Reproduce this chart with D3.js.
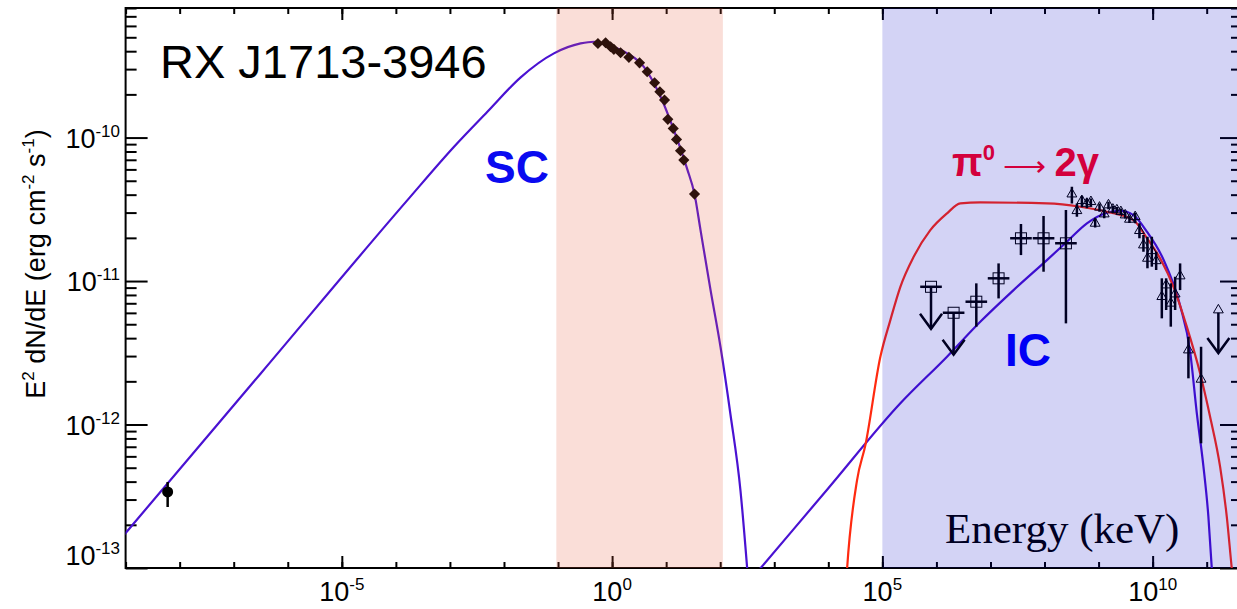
<!DOCTYPE html>
<html>
<head>
<meta charset="utf-8">
<script src="https://cdn.jsdelivr.net/npm/d3@7"></script>
<style>
  body { margin: 0; background: #fff; }
  svg { display: block; font-family: "Liberation Sans", Arial, Helvetica, sans-serif; }
</style>
</head>
<body>
<div id="chart"></div>
<script>
// values are log10: energy in keV, E^2 dN/dE in erg cm^-2 s^-1

// radio point
var radioLogE = [-8.222];
var radioLogF = [-12.470];
var radioLo = [-12.575];
var radioHi = [-12.401];

// X-ray (diamonds)
var xrayLogE = [-0.262, -0.120, -0.028, 0.033, 0.157, 0.311, 0.508, 0.650, 0.786, 0.884, 0.970, 1.031, 1.131, 1.192, 1.266, 1.327, 1.525];
var xrayLogF = [-9.344, -9.339, -9.367, -9.385, -9.409, -9.441, -9.479, -9.541, -9.618, -9.681, -9.739, -9.873, -9.936, -10.013, -10.092, -10.157, -10.394];

// GeV squares
var gevLogE = [6.738, 7.150, 7.564, 7.982, 8.396];
var gevLogF = [-11.144, -10.981, -10.702, -10.702, -10.737];
var gevLo = [-11.318, -11.121, -10.819, -10.935, -11.295];
var gevHi = [-11.016, -10.877, -10.603, -10.547, -10.505];
var gevHalfBin = 0.2;
var gevUlLogE = [5.900, 6.318];
var gevUlLogF = [-11.040, -11.221];

// TeV triangles
var tevLogE = [8.506, 8.599, 8.691, 8.784, 8.858, 8.937, 9.017, 9.104, 9.183, 9.264, 9.338, 9.412, 9.492, 9.571,
               9.677, 9.756, 9.830, 9.904, 9.985, 10.065, 10.170, 10.250, 10.336, 10.416, 10.508, 10.662, 10.896];
var tevLogF = [-10.394, -10.510, -10.440, -10.459, -10.447, -10.598, -10.486, -10.533, -10.470, -10.500, -10.505, -10.517, -10.540, -10.570,
               -10.552, -10.649, -10.749, -10.842, -10.789, -10.859, -11.109, -11.028, -11.155, -11.091, -10.965, -11.481, -11.685];
var tevLo = [-10.459, -10.552, -10.486, -10.493, -10.482, -10.626, -10.517, -10.563, -10.500, -10.524, -10.526, -10.540, -10.564, -10.596,
             -10.598, -10.702, -10.796, -10.911, -10.900, -10.923, -11.260, -11.202, -11.318, -11.202, -11.063, -11.678, -12.131];
var tevHi = [-10.343, -10.459, -10.408, -10.424, -10.424, -10.563, -10.459, -10.505, -10.447, -10.477, -10.484, -10.495, -10.516, -10.544,
             -10.524, -10.598, -10.679, -10.691, -10.691, -10.796, -10.981, -10.981, -11.016, -10.970, -10.877, -11.388, -11.458];
var tevUlLogE = [11.216];
var tevUlLogF = [-11.202];

// model curves
var scLogE = [-9.2, -8.952, -6.5, -3.786, -2.924, -2.307, -1.691, -1.076, -0.582, -0.336, -0.03, 0.281, 0.588, 0.897, 1.143, 1.390, 1.525, 1.636, 1.82, 2.006, 2.19, 2.375, 2.499, 2.56];
var scLogF = [-12.845, -12.735, -11.644, -10.436, -10.064, -9.820, -9.580, -9.413, -9.344, -9.332, -9.360, -9.413, -9.507, -9.716, -9.948, -10.22, -10.394, -10.645, -11.06, -11.46, -11.93, -12.46, -13.002, -13.3];

var icLogE = [2.70, 2.745, 4.0, 5.333, 6.196, 6.811, 7.427, 8.044, 8.414, 8.784, 9.153, 9.399, 9.645, 9.893, 10.20, 10.508, 10.693, 10.817, 10.939, 11.031, 11.094, 11.14];
var icLogF = [-13.022, -13.002, -12.444, -11.852, -11.527, -11.284, -11.063, -10.854, -10.726, -10.598, -10.524, -10.510, -10.540, -10.655, -10.85, -11.17, -11.49, -11.92, -12.29, -12.64, -13.0, -13.3];

var pi0LogE = [4.30, 4.348, 4.532, 4.686, 4.963, 5.148, 5.333, 5.579, 5.887, 6.196, 6.442, 6.811, 8.044, 8.660, 9.153, 9.645, 9.893, 10.15, 10.385, 10.632, 10.878, 11.063, 11.248, 11.372, 11.464, 11.52];
var pi0LogF = [-13.3, -13.002, -12.387, -12.143, -11.527, -11.272, -11.040, -10.831, -10.645, -10.528, -10.459, -10.452, -10.459, -10.482, -10.517, -10.575, -10.70, -10.85, -11.04, -11.318, -11.643, -11.946, -12.294, -12.643, -13.002, -13.2];

// shaded energy bands (keV)
var bandStart = [0.093, 1e5];
var bandEnd = [112, 4.5e11];

var xDomain = [1e-9, 4.5e11];
var yDomain = [1e-13, 8e-10];

var W = 1237, H = 609;
var plot = {left: 125.6, right: 1242, top: 8, bottom: 568};

var svg = d3.select("#chart").append("svg")
    .attr("width", W)
    .attr("height", H);

var x = d3.scaleLog().domain(xDomain).range([plot.left, plot.right]);
var y = d3.scaleLog().domain(yDomain).range([plot.bottom, plot.top]);
function X(v) { return x(Math.pow(10, v)); }
function Y(v) { return y(Math.pow(10, v)); }

svg.append("clipPath").attr("id", "clip")
  .append("rect")
    .attr("x", plot.left).attr("y", plot.top)
    .attr("width", plot.right - plot.left).attr("height", plot.bottom - plot.top);

// ticks
var xMinor = d3.range(-9, 12).map(function (p) { return Math.pow(10, p); });
var xMajor = [1e-5, 1, 1e5, 1e10];
var yMajor = [1e-13, 1e-12, 1e-11, 1e-10];
var yMinor = [];
yMajor.forEach(function (d) {
  for (var k = 2; k <= 9; k++) { if (d * k <= yDomain[1]) yMinor.push(d * k); }
});

function styleAxis(g) {
  g.select(".domain").remove();
  g.selectAll(".tick line").attr("stroke", "#000").attr("stroke-width", 2);
}

svg.append("g").attr("transform", "translate(0," + plot.bottom + ")")
  .call(d3.axisBottom(x).tickValues(xMinor).tickSize(-6).tickFormat("")).call(styleAxis);
svg.append("g").attr("transform", "translate(0," + plot.bottom + ")")
  .call(d3.axisBottom(x).tickValues(xMajor).tickSize(-12).tickFormat("")).call(styleAxis);
svg.append("g").attr("transform", "translate(0," + plot.top + ")")
  .call(d3.axisTop(x).tickValues(xMinor).tickSize(-6).tickFormat("")).call(styleAxis);
svg.append("g").attr("transform", "translate(0," + plot.top + ")")
  .call(d3.axisTop(x).tickValues(xMajor).tickSize(-12).tickFormat("")).call(styleAxis);

svg.append("g").attr("transform", "translate(" + plot.left + ",0)")
  .call(d3.axisLeft(y).tickValues(yMinor).tickSize(-11).tickFormat("")).call(styleAxis);
svg.append("g").attr("transform", "translate(" + plot.left + ",0)")
  .call(d3.axisLeft(y).tickValues(yMajor).tickSize(-22).tickFormat("")).call(styleAxis);
svg.append("g").attr("transform", "translate(" + plot.right + ",0)")
  .call(d3.axisRight(y).tickValues(yMinor).tickSize(-11).tickFormat("")).call(styleAxis);
svg.append("g").attr("transform", "translate(" + plot.right + ",0)")
  .call(d3.axisRight(y).tickValues(yMajor).tickSize(-22).tickFormat("")).call(styleAxis);

svg.append("rect")
  .attr("x", plot.left).attr("y", plot.top)
  .attr("width", plot.right - plot.left).attr("height", plot.bottom - plot.top)
  .attr("fill", "none").attr("stroke", "#000").attr("stroke-width", 2);

// tick labels
xMajor.forEach(function (v) {
  var t = svg.append("text")
    .attr("x", x(v)).attr("y", 601)
    .attr("text-anchor", "middle")
    .attr("font-size", 27);
  t.append("tspan").text("10");
  t.append("tspan").attr("font-size", 17).attr("dy", -11).text(Math.round(Math.log10(v)));
});

yMajor.forEach(function (v) {
  var yy = y(v) + 10;
  if (v === yMajor[0]) yy -= 13;
  var t = svg.append("text")
    .attr("x", 120).attr("y", yy)
    .attr("text-anchor", "end")
    .attr("font-size", 27);
  t.append("tspan").text("10");
  t.append("tspan").attr("font-size", 17).attr("dy", -11).text(Math.round(Math.log10(v)));
});

// y title
var yt = svg.append("text")
  .attr("transform", "translate(45,264) rotate(-90)")
  .attr("text-anchor", "middle")
  .attr("font-size", 27);
yt.append("tspan").text("E");
yt.append("tspan").attr("font-size", 17).attr("dy", -11).text("2");
yt.append("tspan").attr("dy", 11).text(" dN/dE (erg cm");
yt.append("tspan").attr("font-size", 17).attr("dy", -11).text("-2");
yt.append("tspan").attr("dy", 11).text(" s");
yt.append("tspan").attr("font-size", 17).attr("dy", -11).text("-1");
yt.append("tspan").attr("dy", 11).text(")");

// model curves
var layer = svg.append("g").attr("clip-path", "url(#clip)");

var line = d3.line()
  .x(function (d) { return X(d[0]); })
  .y(function (d) { return Y(d[1]); })
  .curve(d3.curveMonotoneX);

function curve(e, f, color) {
  layer.append("path")
    .datum(d3.zip(e, f))
    .attr("d", line)
    .attr("fill", "none")
    .attr("stroke", color)
    .attr("stroke-width", 2.2);
}
curve(scLogE, scLogF, "#4a12d2");
curve(icLogE, icLogF, "#4a12d2");
curve(pi0LogE, pi0LogF, "#ff2a10");

// radio
radioLogE.forEach(function (e, i) {
  layer.append("line")
    .attr("x1", X(e)).attr("x2", X(e))
    .attr("y1", Y(radioLo[i])).attr("y2", Y(radioHi[i]))
    .attr("stroke", "#000").attr("stroke-width", 2.5);
  layer.append("circle")
    .attr("cx", X(e)).attr("cy", Y(radioLogF[i])).attr("r", 5.5)
    .attr("fill", "#000");
});

// X-ray diamonds
var diamond = d3.symbol().type(d3.symbolSquare).size(62);
layer.selectAll(".xray")
  .data(d3.zip(xrayLogE, xrayLogF))
  .enter().append("path")
    .attr("d", diamond)
    .attr("transform", function (d) { return "translate(" + X(d[0]) + "," + Y(d[1]) + ") rotate(45)"; })
    .attr("fill", "#000");

// GeV points
gevLogE.forEach(function (e, i) {
  layer.append("line")
    .attr("x1", X(e)).attr("x2", X(e))
    .attr("y1", Y(gevLo[i])).attr("y2", Y(gevHi[i]))
    .attr("stroke", "#000").attr("stroke-width", 2.5);
  layer.append("line")
    .attr("x1", X(e - gevHalfBin)).attr("x2", X(e + gevHalfBin))
    .attr("y1", Y(gevLogF[i])).attr("y2", Y(gevLogF[i]))
    .attr("stroke", "#000").attr("stroke-width", 2.5);
  layer.append("rect")
    .attr("x", X(e) - 5.5).attr("y", Y(gevLogF[i]) - 5.5)
    .attr("width", 11).attr("height", 11)
    .attr("fill", "none").attr("stroke", "#000").attr("stroke-width", 1);
});

function arrowDown(g, px, py, len) {
  g.append("line").attr("x1", px).attr("x2", px).attr("y1", py).attr("y2", py + len)
    .attr("stroke", "#000").attr("stroke-width", 2.5);
  g.append("path")
    .attr("d", "M" + (px - 11) + "," + (py + len - 15) + "L" + px + "," + (py + len) + "L" + (px + 11) + "," + (py + len - 15))
    .attr("fill", "none").attr("stroke", "#000").attr("stroke-width", 2.5);
}

gevUlLogE.forEach(function (e, i) {
  var px = X(e), py = Y(gevUlLogF[i]);
  arrowDown(layer, px, py, 42);
  layer.append("line")
    .attr("x1", X(e - gevHalfBin)).attr("x2", X(e + gevHalfBin))
    .attr("y1", py).attr("y2", py)
    .attr("stroke", "#000").attr("stroke-width", 2.5);
  layer.append("rect")
    .attr("x", px - 5.5).attr("y", py - 5.5)
    .attr("width", 11).attr("height", 11)
    .attr("fill", "none").attr("stroke", "#000").attr("stroke-width", 1);
});

// TeV points
var tri = d3.symbol().type(d3.symbolTriangle).size(42);
tevLogE.forEach(function (e, i) {
  layer.append("line")
    .attr("x1", X(e)).attr("x2", X(e))
    .attr("y1", Y(tevLo[i])).attr("y2", Y(tevHi[i]))
    .attr("stroke", "#000").attr("stroke-width", 2.5);
  layer.append("path")
    .attr("d", tri)
    .attr("transform", "translate(" + X(e) + "," + Y(tevLogF[i]) + ")")
    .attr("fill", "none").attr("stroke", "#000").attr("stroke-width", 1);
});
tevUlLogE.forEach(function (e, i) {
  var px = X(e), py = Y(tevUlLogF[i]);
  arrowDown(layer, px, py, 43);
  layer.append("path")
    .attr("d", tri)
    .attr("transform", "translate(" + px + "," + py + ")")
    .attr("fill", "#fff").attr("stroke", "#000").attr("stroke-width", 1);
});

// labels
svg.append("text").attr("x", 160).attr("y", 78).attr("font-size", 47).attr("fill", "#000").text("RX J1713-3946");
svg.append("text").attr("x", 485).attr("y", 183).attr("font-size", 46).attr("font-weight", "bold").attr("fill", "#0a0af0").text("SC");
svg.append("text").attr("x", 1005).attr("y", 366).attr("font-size", 46).attr("font-weight", "bold").attr("fill", "#0000ff").text("IC");
svg.append("text").attr("x", 945).attr("y", 543).attr("font-size", 43)
  .attr("font-family", "'Liberation Serif', 'Times New Roman', serif").attr("fill", "#000").text("Energy (keV)");

var pl = svg.append("text").attr("x", 952).attr("y", 176).attr("fill", "#ff0020").attr("font-weight", "bold").attr("font-size", 40);
pl.append("tspan").text("\u03c0");
pl.append("tspan").attr("font-size", 22).attr("dy", -16).text("0");
pl.append("tspan").attr("dy", 16).attr("font-weight", "normal").attr("font-size", 30).text(" \u27f6 ");
pl.append("tspan").text("2\u03b3");

// shaded bands, drawn over everything
svg.append("rect")
  .attr("x", x(bandStart[0])).attr("y", plot.top)
  .attr("width", x(bandEnd[0]) - x(bandStart[0])).attr("height", plot.bottom - plot.top)
  .attr("fill", "rgb(230,90,60)").attr("fill-opacity", 0.2);
svg.append("rect")
  .attr("x", x(bandStart[1])).attr("y", plot.top)
  .attr("width", x(bandEnd[1]) - x(bandStart[1])).attr("height", plot.bottom - plot.top)
  .attr("fill", "rgb(0,0,197)").attr("fill-opacity", 0.1725);
</script>
</body>
</html>
